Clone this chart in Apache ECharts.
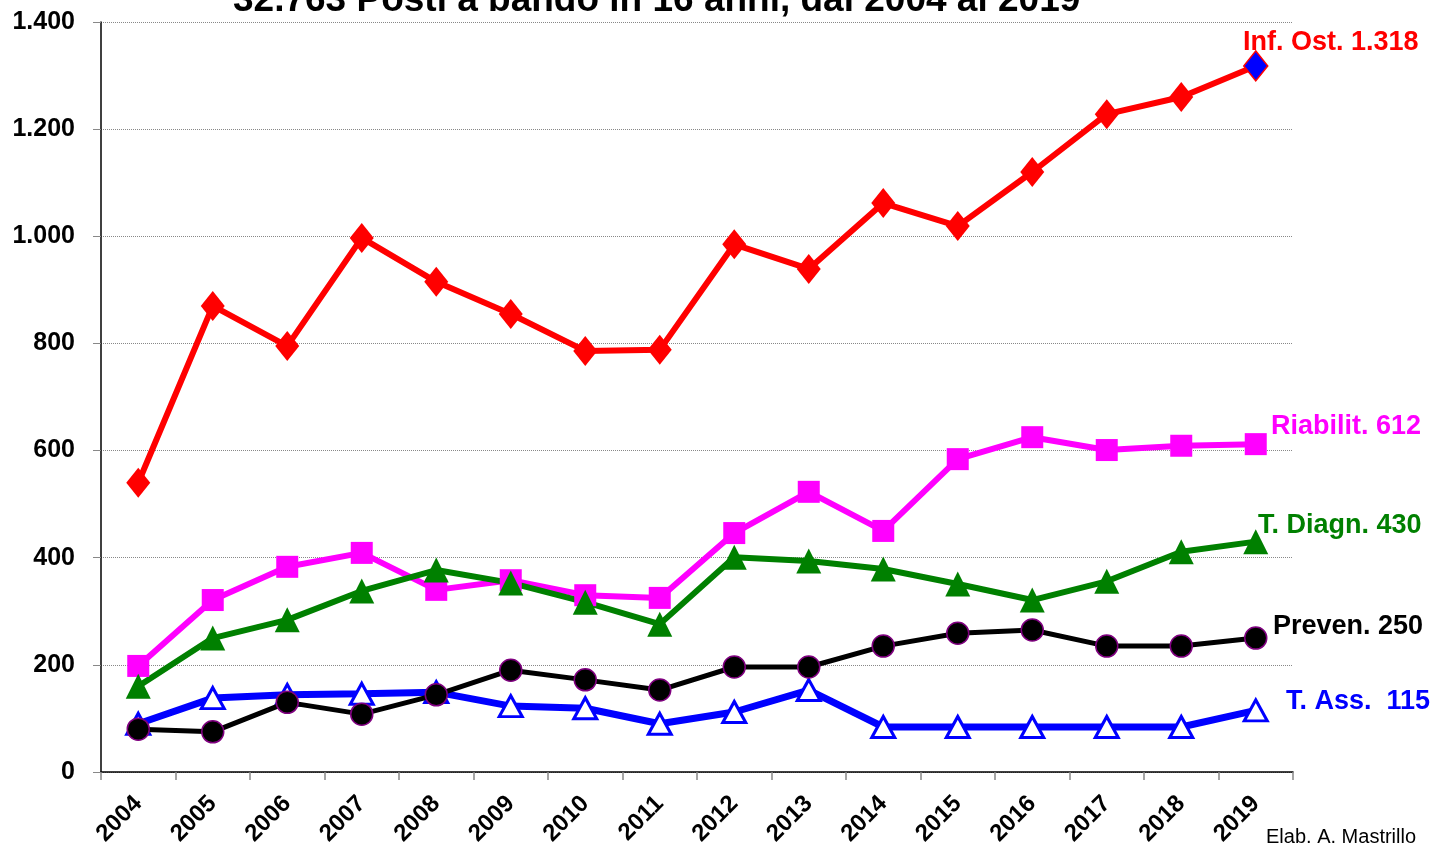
<!DOCTYPE html>
<html><head><meta charset="utf-8">
<script src="https://cdn.jsdelivr.net/npm/echarts@6/dist/echarts.min.js"></script>
<style>html,body{margin:0;padding:0;background:#fff}#c{width:1432px;height:849px}</style>
</head><body><div id="c"></div>
<script>
const years = ['2004','2005','2006','2007','2008','2009','2010','2011','2012','2013','2014','2015','2016','2017','2018','2019'];
const infOst = [540,870,795,997,915,855,786,788,985,939,1062,1019,1120,1228,1260,1318];
const riabilit = [198,321,383,409,340,358,330,325,446,523,450,584,625,601,609,612];
const tDiagn = [160,250,284,338,377,353,317,276,401,394,379,351,321,356,411,430];
const preven = [80,75,130,108,144,190,172,153,196,196,235,259,265,235,235,250];
const tAss = [90,138,144,146,149,123,119,90,112,153,84,84,84,84,84,115];
const yTicks = [0,200,400,600,800,1000,1200,1400];

const chart = echarts.init(document.getElementById('c'));
const fmt = v => String(v).replace(/\B(?=(\d{3})+(?!\d))/g, '.');
const infData = infOst.map((v,i) => i === infOst.length-1 ? {value:v, itemStyle:{color:'#0000ff', borderColor:'#ff0000', borderWidth:1.5}} : v);
const F = '"Liberation Sans", Arial';
chart.setOption({
  animation:false,
  grid:{left:101,right:139,top:22,bottom:77},
  xAxis:{type:'category',data:years,boundaryGap:true,
    axisLine:{lineStyle:{color:'#000',width:1.5}},
    axisTick:{show:true,length:8,lineStyle:{color:'#888',width:1.5}},
    axisLabel:{rotate:45,color:'#000',fontFamily:F,fontWeight:'bold',fontSize:24,margin:28},
    splitLine:{show:false}},
  yAxis:{type:'value',min:yTicks[0],max:yTicks[yTicks.length-1],interval:200,
    axisLine:{show:true,lineStyle:{color:'#000',width:1.5}},
    axisTick:{show:true,length:8,lineStyle:{color:'#888'}},
    axisLabel:{color:'#000',fontFamily:F,fontWeight:'bold',fontSize:25,margin:26,formatter:v=>fmt(v)},
    splitLine:{show:true,lineStyle:{color:'#888',type:'dotted',width:1}}},
  series:[
    {name:'Inf. Ost.',type:'line',data:infData,symbol:'diamond',symbolSize:[24,30],
      lineStyle:{color:'#ff0000',width:6},itemStyle:{color:'#ff0000'},z:5},
    {name:'Riabilit.',type:'line',data:riabilit,symbol:'rect',symbolSize:22,
      lineStyle:{color:'#ff00ff',width:6},itemStyle:{color:'#ff00ff'},z:4},
    {name:'T. Diagn.',type:'line',data:tDiagn,symbol:'triangle',symbolSize:[25,25],
      lineStyle:{color:'#008000',width:6},itemStyle:{color:'#008000'},z:4},
    {name:'T. Ass.',type:'line',data:tAss,symbol:'triangle',symbolSize:[23,21],
      lineStyle:{color:'#0000ff',width:7},itemStyle:{color:'#ffffff',borderColor:'#0000ff',borderWidth:3},z:3},
    {name:'Preven.',type:'line',data:preven,symbol:'circle',symbolSize:22,
      lineStyle:{color:'#000000',width:5},itemStyle:{color:'#000000',borderColor:'#800080',borderWidth:1.5},z:4}
  ],
  graphic:[
    {type:'text',x:233,y:-18,style:{text:'32.763 Posti a bando in 16 anni, dal 2004 al 2019',font:'bold 37px '+F,fill:'#000'},z:10},
    {type:'text',x:1243,y:43,style:{text:'Inf. Ost. 1.318',font:'bold 27px '+F,fill:'#ff0000',verticalAlign:'middle'}},
    {type:'text',x:1271,y:427,style:{text:'Riabilit. 612',font:'bold 27px '+F,fill:'#ff00ff',verticalAlign:'middle'}},
    {type:'text',x:1258,y:526,style:{text:'T. Diagn. 430',font:'bold 27px '+F,fill:'#008000',verticalAlign:'middle'}},
    {type:'text',x:1273,y:627,style:{text:'Preven. 250',font:'bold 27px '+F,fill:'#000',verticalAlign:'middle'}},
    {type:'text',x:1286,y:702,style:{text:'T. Ass.  115',font:'bold 27px '+F,fill:'#0000ff',verticalAlign:'middle'}},
    {type:'text',x:1266,y:837,style:{text:'Elab. A. Mastrillo',font:'20px '+F,fill:'#000',verticalAlign:'middle'}}
  ]
});
</script></body></html>
